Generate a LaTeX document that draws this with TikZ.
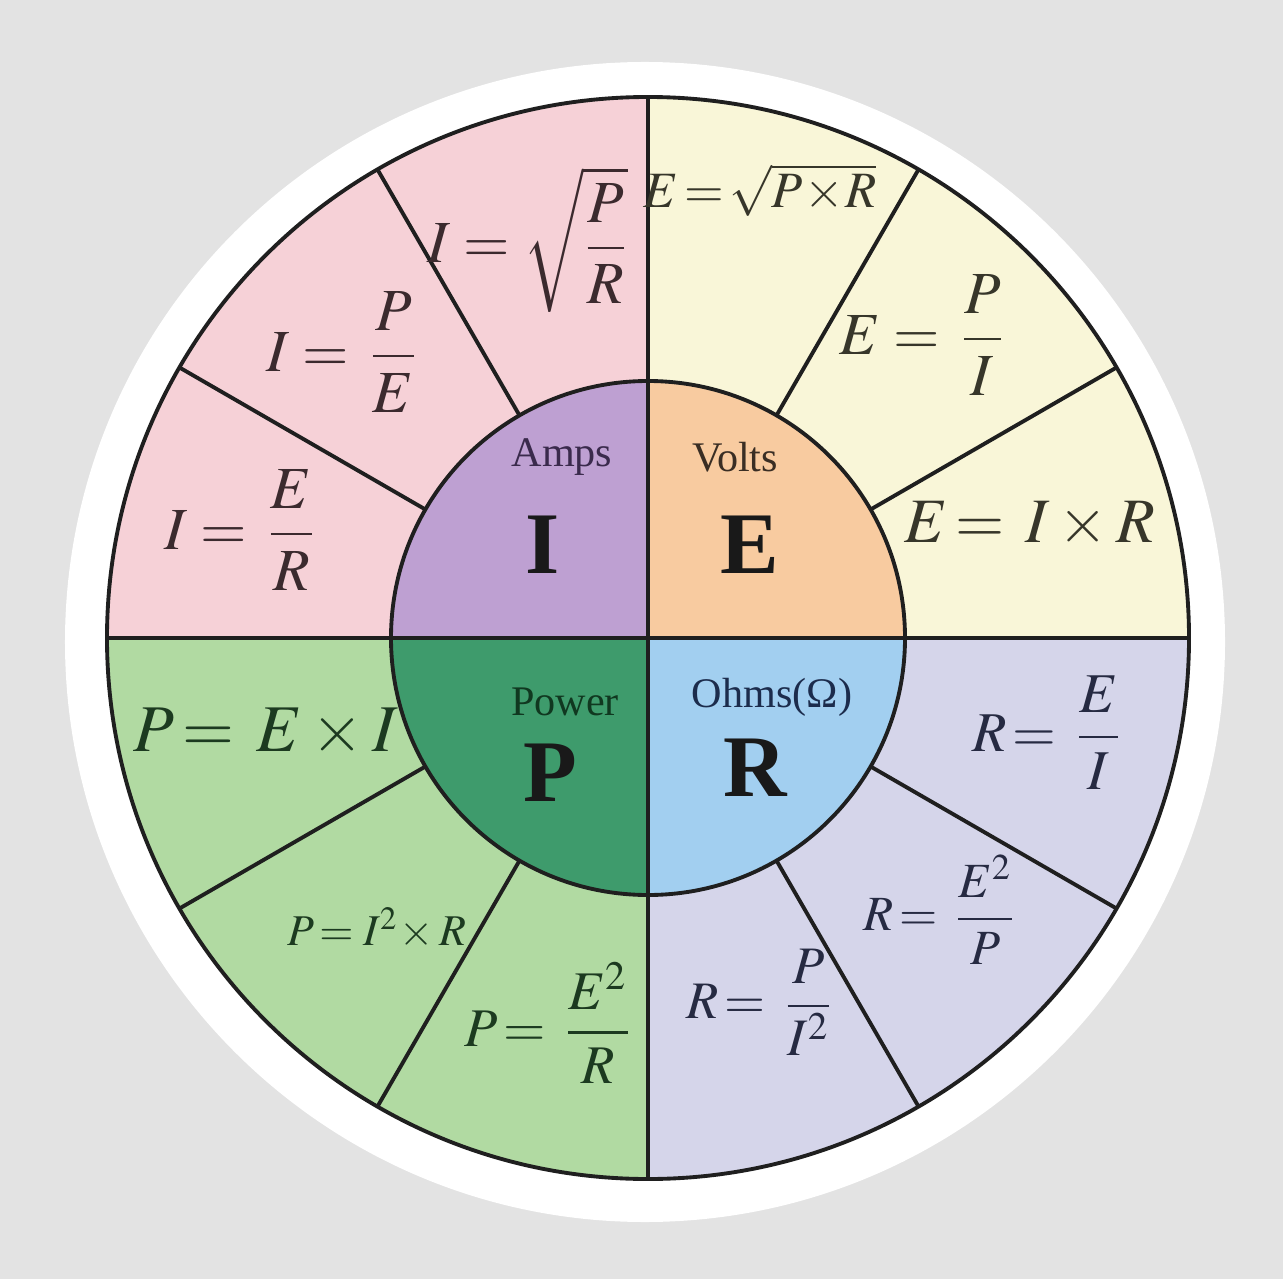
\documentclass[tikz,border=0pt]{standalone}
\usepackage{amsmath}
\usepackage{mathptmx}
\usepackage{fontspec}
\setmainfont{Liberation Serif}
\usetikzlibrary{positioning}
\definecolor{bggrey}{HTML}{E3E3E3}
\definecolor{pinkbg}{HTML}{F6D1D7}
\definecolor{creambg}{HTML}{F9F6D8}
\definecolor{greenbg}{HTML}{B1DAA2}
\definecolor{lilacbg}{HTML}{D5D5EA}
\definecolor{ampsfill}{HTML}{BEA0D2}
\definecolor{voltsfill}{HTML}{F8CBA0}
\definecolor{powerfill}{HTML}{3E9B6C}
\definecolor{ohmsfill}{HTML}{A2CFF0}
\definecolor{pinkink}{HTML}{3B2A2E}
\definecolor{creamink}{HTML}{37362A}
\definecolor{greenink}{HTML}{1C3A20}
\definecolor{lilacink}{HTML}{262A42}
\definecolor{ampsink}{HTML}{3A2A4C}
\definecolor{voltsink}{HTML}{3A2E24}
\definecolor{powerink}{HTML}{103820}
\definecolor{ohmsink}{HTML}{1C2C4C}
\tikzset{
  rim/.style={draw=black!88, line width=1.1pt},
  fml/.style={inner sep=1pt, font=\fontsize{#1pt}{#1pt}\selectfont},
  ink/.style={text=#1},
  unitlbl/.style={inner sep=1pt, text=#1, font=\fontsize{12pt}{12pt}\selectfont},
  bigsym/.style={inner sep=1pt, text=black!90, font=\fontsize{25pt}{25pt}\selectfont\bfseries},
}
\begin{document}
\begin{tikzpicture}
  % backdrop and sticker
  \fill[bggrey] (-6.48,-6.41) rectangle (6.35,6.38);
  \fill[white] (-0.03,-0.04) circle (5.80);

  % outer quadrants
  \fill[pinkbg] (0,0) -- (0,5.41) arc (90:180:5.41) -- cycle;
  \fill[creambg] (0,0) -- (5.41,0) arc (0:90:5.41) -- cycle;
  \fill[greenbg] (0,0) -- (-5.41,0) arc (180:270:5.41) -- cycle;
  \fill[lilacbg] (0,0) -- (0,-5.41) arc (270:360:5.41) -- cycle;

  % inner quadrants
  \fill[ampsfill] (0,0) -- (0,2.57) arc (90:180:2.57) -- cycle;
  \fill[voltsfill] (0,0) -- (2.57,0) arc (0:90:2.57) -- cycle;
  \fill[powerfill] (0,0) -- (-2.57,0) arc (180:270:2.57) -- cycle;
  \fill[ohmsfill] (0,0) -- (0,-2.57) arc (270:360:2.57) -- cycle;

  % dividers
  \draw[rim] (-5.41,0) -- (5.41,0);
  \draw[rim] (0,-5.41) -- (0,5.41);
  \draw[rim] (120:2.57) -- (120:5.41);
  \draw[rim] (150:2.57) -- (150:5.41);
  \draw[rim] (30:2.57) -- (30:5.41);
  \draw[rim] (60:2.57) -- (60:5.41);
  \draw[rim] (210:2.57) -- (210:5.41);
  \draw[rim] (240:2.57) -- (240:5.41);
  \draw[rim] (300:2.57) -- (300:5.41);
  \draw[rim] (330:2.57) -- (330:5.41);
  \draw[rim] (0,0) circle (5.41);
  \draw[rim] (0,0) circle (2.57);

  % current
  \node[fml=17, ink=pinkink] (isqrt) at (-1.20,3.98) {$I=\sqrt{\dfrac{P}{R}}$};
  \node[fml=17, ink=pinkink] (ipe) at (-3.06,2.86) {$I=\,\dfrac{P}{E}$};
  \node[fml=17, ink=pinkink] (ier) at (-4.08,1.08) {$I=\,\dfrac{E}{R}$};

  % voltage
  \node[fml=14.5, ink=creamink] (esqrt) at (1.12,4.48) {$E\!=\!\sqrt{P\!\times\! R}$};
  \node[fml=17, ink=creamink] (epi) at (2.74,3.03) {$E=\,\dfrac{P}{I}$};
  \node[fml=18, ink=creamink] (eir) at (3.82,1.13) {$E\!=\,I\times R$};

  % power
  \node[fml=19, ink=greenink] (pei) at (-3.82,-0.95) {$P\!=\,E\times I$};
  \node[fml=12.5, ink=greenink] (pir) at (-2.71,-2.90) {$P\!=I^2\!\times R$};
  \node[fml=15.5, ink=greenink] (per) at (-1.00,-3.85) {$P\!=\,\dfrac{E^2}{R}$};

  % resistance
  \node[fml=16, ink=lilacink] (rei) at (3.99,-0.95) {$R\!=\,\dfrac{E}{I}$};
  \node[fml=14, ink=lilacink] (rep) at (2.92,-2.72) {$R\!=\,\dfrac{E^2}{P}$};
  \node[fml=15, ink=lilacink] (rpi) at (1.12,-3.64) {$R\!=\,\dfrac{P}{I^2}$};

  % hub
  \node[unitlbl=ampsink] (amps) at (-0.86,1.81) {Amps};
  \node[bigsym] (symi) at (-1.05,0.93) {I};
  \node[unitlbl=voltsink] (volts) at (0.87,1.81) {Volts};
  \node[bigsym] (syme) at (1.02,0.93) {E};
  \node[unitlbl=powerink] (power) at (-0.83,-0.64) {Power};
  \node[bigsym] (symp) at (-0.98,-1.35) {P};
  \node[unitlbl=ohmsink] (ohms) at (1.24,-0.59) {Ohms(Ω)};
  \node[bigsym] (symr) at (1.07,-1.30) {R};
\end{tikzpicture}
\end{document}
